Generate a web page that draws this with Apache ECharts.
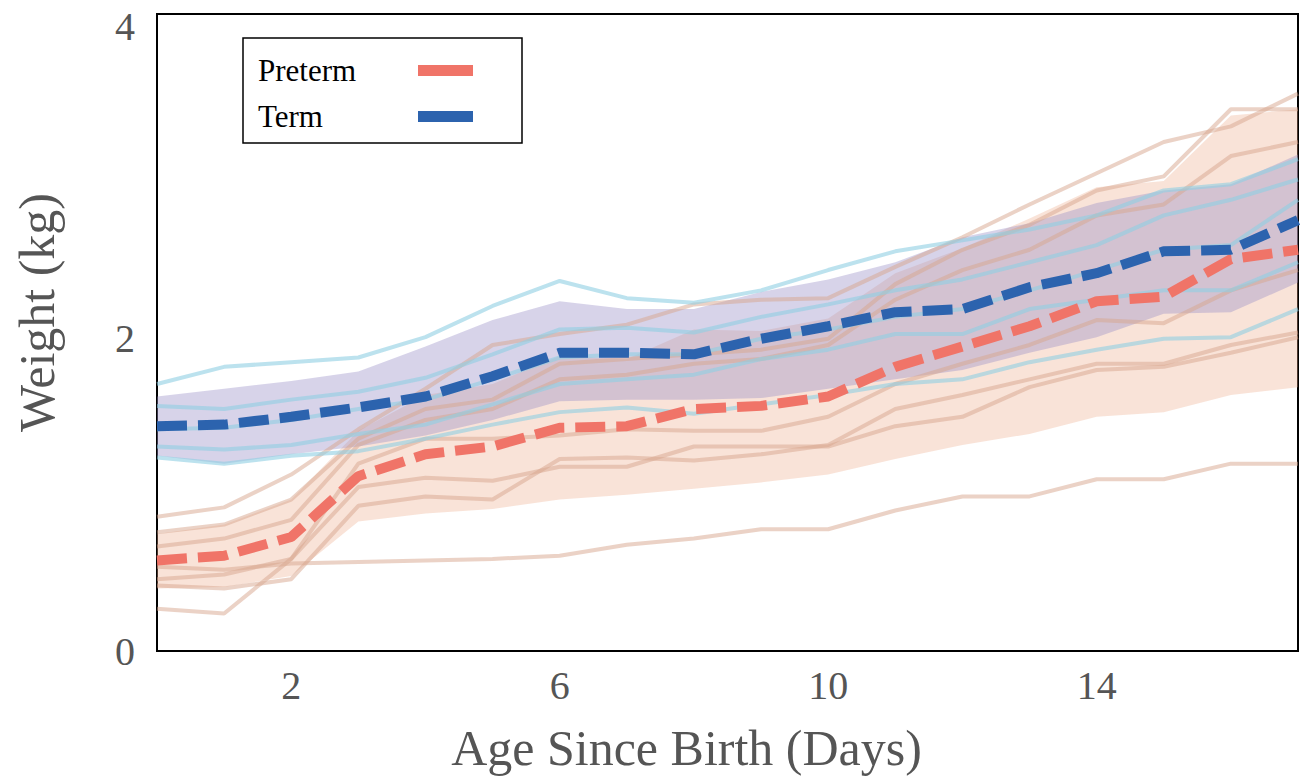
<!DOCTYPE html>
<html>
<head>
<meta charset="utf-8">
<script src="https://cdn.jsdelivr.net/npm/echarts@6/dist/echarts.min.js"></script>
<style>
  html, body { margin: 0; padding: 0; background: #fff; }
  #chart { width: 1303px; height: 778px; }
</style>
</head>
<body>
<div id="chart"></div>
<script>
// 数据：出生后天数与体重 (kg)
const days = [0, 1, 2, 3, 4, 5, 6, 7, 8, 9, 10, 11, 12, 13, 14, 15, 16, 17];
const xTicks = [2, 6, 10, 14];
const yTicks = [0, 2, 4];

// 均值与阴影带
const pretermMean = [0.58, 0.61, 0.73, 1.12, 1.26, 1.31, 1.43, 1.44, 1.55, 1.57, 1.63, 1.82, 1.95, 2.08, 2.24, 2.27, 2.51, 2.57];
const pretermLower = [0.40, 0.41, 0.48, 0.83, 0.88, 0.91, 0.97, 1.00, 1.04, 1.08, 1.13, 1.23, 1.32, 1.39, 1.50, 1.53, 1.64, 1.69];
const pretermUpper = [0.75, 0.81, 0.97, 1.41, 1.64, 1.71, 1.89, 1.87, 2.06, 2.05, 2.13, 2.42, 2.58, 2.77, 2.97, 3.01, 3.43, 3.47];
const termMean = [1.44, 1.45, 1.50, 1.56, 1.63, 1.76, 1.91, 1.91, 1.90, 2.00, 2.08, 2.17, 2.19, 2.33, 2.42, 2.56, 2.57, 2.76];
const termLower = [1.25, 1.20, 1.26, 1.31, 1.38, 1.48, 1.60, 1.61, 1.61, 1.62, 1.68, 1.74, 1.80, 1.91, 2.01, 2.16, 2.17, 2.36];
const termUpper = [1.63, 1.68, 1.73, 1.79, 1.95, 2.12, 2.24, 2.19, 2.19, 2.30, 2.38, 2.49, 2.65, 2.74, 2.87, 2.95, 2.99, 3.18];

// 早产儿个体曲线
const preterm1 = [0.86, 0.92, 1.13, 1.42, 1.68, 1.96, 2.03, 2.09, 2.22, 2.25, 2.26, 2.46, 2.65, 2.86, 3.06, 3.26, 3.36, 3.57];
const preterm2 = [0.76, 0.81, 0.97, 1.36, 1.55, 1.61, 1.84, 1.87, 1.90, 1.93, 2.00, 2.35, 2.57, 2.73, 2.95, 3.04, 3.47, 3.47];
const preterm3 = [0.67, 0.72, 0.84, 1.32, 1.48, 1.55, 1.74, 1.77, 1.84, 1.87, 1.96, 2.25, 2.44, 2.57, 2.79, 2.86, 3.17, 3.26];
const preterm4 = [0.46, 0.49, 0.59, 1.20, 1.36, 1.36, 1.38, 1.42, 1.41, 1.41, 1.50, 1.71, 1.84, 1.96, 2.12, 2.10, 2.31, 2.44];
const preterm5 = [0.42, 0.40, 0.46, 0.93, 0.99, 0.97, 1.23, 1.24, 1.22, 1.26, 1.32, 1.55, 1.64, 1.74, 1.84, 1.84, 1.96, 2.04];
const preterm6 = [0.27, 0.24, 0.59, 1.05, 1.11, 1.09, 1.18, 1.18, 1.31, 1.31, 1.31, 1.44, 1.50, 1.69, 1.80, 1.82, 1.91, 2.01];
const preterm7 = [0.54, 0.52, 0.56, 0.57, 0.58, 0.59, 0.61, 0.68, 0.72, 0.78, 0.78, 0.90, 0.99, 0.99, 1.10, 1.10, 1.20, 1.20];

// 足月儿个体曲线
const term1 = [1.71, 1.82, 1.85, 1.88, 2.01, 2.21, 2.37, 2.26, 2.23, 2.31, 2.44, 2.56, 2.63, 2.70, 2.79, 2.95, 2.99, 3.15];
const term2 = [1.57, 1.55, 1.61, 1.66, 1.75, 1.90, 2.06, 2.07, 2.04, 2.14, 2.22, 2.31, 2.38, 2.49, 2.60, 2.79, 2.89, 3.02];
const term3 = [1.42, 1.43, 1.48, 1.55, 1.61, 1.74, 1.88, 1.90, 1.90, 2.00, 2.06, 2.14, 2.19, 2.31, 2.44, 2.57, 2.60, 2.89];
const term4 = [1.31, 1.29, 1.32, 1.39, 1.45, 1.58, 1.71, 1.74, 1.77, 1.87, 1.93, 2.03, 2.03, 2.19, 2.25, 2.31, 2.31, 2.49];
const term5 = [1.24, 1.20, 1.25, 1.28, 1.36, 1.45, 1.53, 1.56, 1.52, 1.58, 1.64, 1.71, 1.74, 1.85, 1.93, 2.00, 2.01, 2.19];

const FONT = "'Liberation Serif', 'Times New Roman', serif";
const RED = "#f07468";
const BLUE = "#2c63ae";

const pairs = (arr) => days.map((d, i) => [d, arr[i]]);

let chart = echarts.init(document.getElementById("chart"), null, { renderer: "svg" });

const series = [];

// 个体细线
[preterm1, preterm2, preterm3, preterm4, preterm5, preterm6, preterm7].forEach((arr, i) => {
	series.push({
		name: "preterm infant " + (i + 1),
		type: "line",
		data: pairs(arr),
		symbol: "none",
		silent: true,
		lineStyle: { color: "#d8a58e", width: 4, opacity: 0.5 },
	});
});
[term1, term2, term3, term4, term5].forEach((arr, i) => {
	series.push({
		name: "term infant " + (i + 1),
		type: "line",
		data: pairs(arr),
		symbol: "none",
		silent: true,
		lineStyle: { color: "#8fcfe2", width: 4, opacity: 0.6 },
	});
});

// 阴影带：用 custom 系列画一个多边形（上界 + 反向下界）
function band(key, lower, upper, color, opacity) {
	series.push({
		name: key,
		type: "custom",
		silent: true,
		data: days.map((d, i) => [d, lower[i], upper[i]]),
		encode: { x: 0, y: [1, 2] },
		renderItem: (params, api) => {
			if (params.dataIndex !== 0) return null;
			const pts = [];
			days.forEach((d, i) => pts.push(api.coord([d, upper[i]])));
			for (let i = days.length - 1; i >= 0; i--) pts.push(api.coord([days[i], lower[i]]));
			return {
				type: "polygon",
				shape: { points: pts },
				style: { fill: color, opacity: opacity },
			};
		},
	});
}
band("pretermBand", pretermLower, pretermUpper, "#eea98a", 0.33);
band("termBand", termLower, termUpper, "#9c92c8", 0.4);

// 均值虚线
series.push({
	name: "Preterm",
	type: "line",
	data: pairs(pretermMean),
	symbol: "none",
	itemStyle: { color: RED },
	lineStyle: { color: RED, width: 10, type: [30, 11], cap: "butt" },
});
series.push({
	name: "Term",
	type: "line",
	data: pairs(termMean),
	symbol: "none",
	itemStyle: { color: BLUE },
	lineStyle: { color: BLUE, width: 10, type: [30, 11], cap: "butt" },
});

const option = {
	animation: false,
	backgroundColor: "#fff",
	grid: {
		left: 157,
		right: 5,
		top: 14,
		bottom: 126,
		show: true,
		borderColor: "#000",
		borderWidth: 2,
	},
	legend: {
		data: ["Preterm", "Term"],
		orient: "vertical",
		left: 243,
		top: 38,
		align: "right",
		icon: "rect",
		itemWidth: 55,
		itemHeight: 11,
		itemGap: 15,
		padding: [17, 49, 11, 15],
		backgroundColor: "#fff",
		borderColor: "#000",
		borderWidth: 1.5,
		borderRadius: 0,
		itemStyle: { borderWidth: 0 },
		formatter: "{n|{name}}",
		textStyle: {
			rich: {
				n: { width: 155, align: "left", fontFamily: FONT, fontSize: 31, lineHeight: 34, color: "#000" },
			},
		},
	},
	xAxis: {
		type: "value",
		min: 0,
		max: 17,
		axisLine: { show: false },
		axisTick: { show: false },
		splitLine: { show: false },
		axisLabel: {
			customValues: xTicks,
			fontFamily: FONT,
			fontSize: 40,
			color: "#555",
			margin: 14,
		},
		name: "Age Since Birth (Days)",
		nameLocation: "middle",
		nameGap: 72,
		nameTextStyle: { fontFamily: FONT, fontSize: 50, color: "#555", padding: [0, 82, 0, 0] },
	},
	yAxis: {
		type: "value",
		min: 0,
		max: 4.08,
		axisLine: { show: false },
		axisTick: { show: false },
		splitLine: { show: false },
		axisLabel: {
			customValues: yTicks,
			fontFamily: FONT,
			fontSize: 40,
			color: "#555",
			margin: 22,
		},
		name: "Weight (kg)",
		nameLocation: "middle",
		nameGap: 95,
		nameTextStyle: { fontFamily: FONT, fontSize: 50, color: "#555", padding: [0, 0, 0, 40] },
	},
	series: series,
};

chart.setOption(option);
</script>
</body>
</html>
